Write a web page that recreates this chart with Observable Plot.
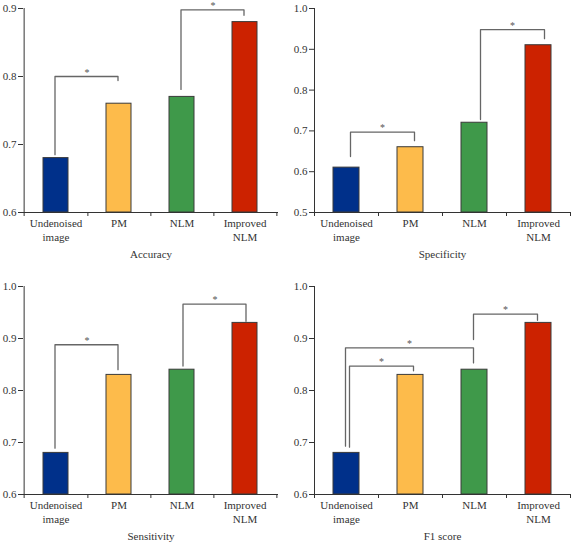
<!DOCTYPE html>
<html><head><meta charset="utf-8">
<script src="https://cdn.jsdelivr.net/npm/d3@7"></script>
<script src="https://cdn.jsdelivr.net/npm/@observablehq/plot@0.6"></script>
<style>
body{margin:0;background:#fff;}
#chart{position:relative;width:572px;height:543px;overflow:hidden;}
#chart svg{position:absolute;display:block;}
</style></head><body><div id="chart"></div>
<script>
// ---- data ----
const categories = ["Undenoised image", "PM", "NLM", "Improved NLM"];
const tickLabels = ["Undenoised\nimage", "PM", "NLM", "Improved\nNLM"];
const barColors = ["#00308a", "#fdbb4b", "#3f994a", "#cc2200"];
const panelTitles = ["Accuracy", "Specificity", "Sensitivity", "F1 score"];

const accuracy = [0.68, 0.76, 0.77, 0.88];
const specificity = [0.61, 0.66, 0.72, 0.91];
const sensitivity = [0.68, 0.83, 0.84, 0.93];
const f1Score = [0.68, 0.83, 0.84, 0.93];

const accuracyTicks = [0.6, 0.7, 0.8, 0.9];
const specificityTicks = [0.5, 0.6, 0.7, 0.8, 0.9, 1.0];
const sensitivityTicks = [0.6, 0.7, 0.8, 0.9, 1.0];
const f1ScoreTicks = [0.6, 0.7, 0.8, 0.9, 1.0];

// significance brackets: [from, to, left leg bottom, bracket top, right leg bottom]
const accuracyBrackets = [
  ["Undenoised image", "PM", 0.685, 0.800, 0.794],
  ["NLM", "Improved NLM", 0.781, 0.898, 0.890]
];
const specificityBrackets = [
  ["Undenoised image", "PM", 0.637, 0.697, 0.676],
  ["NLM", "Improved NLM", 0.728, 0.948, 0.926]
];
const sensitivityBrackets = [
  ["Undenoised image", "PM", 0.689, 0.888, 0.840],
  ["NLM", "Improved NLM", 0.847, 0.966, 0.933]
];
const f1ScoreBrackets = [
  ["Undenoised image", "PM", 0.691, 0.847, 0.838],
  ["Undenoised image", "NLM", 0.693, 0.882, 0.853],
  ["NLM", "Improved NLM", 0.898, 0.947, 0.935]
];

// ---- layout / style ----
const panels = [
  {values: accuracy, ticks: accuracyTicks, brackets: accuracyBrackets, title: panelTitles[0],
   left: 0, top: 0, width: 286, height: 270, ml: 23, mr: 8, mt: 8, mb: 58, nudge: [-1, -1]},
  {values: specificity, ticks: specificityTicks, brackets: specificityBrackets, title: panelTitles[1],
   left: 286, top: 0, width: 286, height: 270, ml: 28, mr: 2, mt: 8, mb: 58, nudge: [4, 6]},
  {values: sensitivity, ticks: sensitivityTicks, brackets: sensitivityBrackets, title: panelTitles[2],
   left: 0, top: 270, width: 286, height: 273, ml: 23, mr: 8, mt: 16, mb: 49, nudge: [-1, 1]},
  {values: f1Score, ticks: f1ScoreTicks, brackets: f1ScoreBrackets, title: panelTitles[3],
   left: 286, top: 270, width: 286, height: 273, ml: 28, mr: 2, mt: 16, mb: 49, nudge: [3, -1, -1]}
];

const ink = "#333";
const font = "'Liberation Serif', 'Times New Roman', serif";
const chart = document.getElementById("chart");

for (const p of panels) {
  const ymin = p.ticks[0], ymax = p.ticks[p.ticks.length - 1];
  const rows = categories.map((c, i) => ({cat: c, value: p.values[i]}));
  const step = (p.width - p.ml - p.mr) / categories.length;
  const marks = [
    Plot.barY(rows, {x: "cat", y1: ymin, y2: "value", fill: "cat", stroke: "#3a3a3a", strokeWidth: 1}),
    Plot.ruleY([ymin], {stroke: ink, strokeWidth: 1}),
    Plot.ruleX([categories[0]], {x: d => d, dx: -step / 2, stroke: ink, strokeWidth: 1}),
    Plot.axisX({tickSize: 0, tickPadding: 5, fontSize: 11, lineHeight: 1.25,
      tickFormat: d => tickLabels[categories.indexOf(d)], label: null}),
    Plot.axisX(categories, {tickSize: 4, tickFormat: () => "", dx: step / 2, label: null}),
    Plot.axisX([categories[0]], {tickSize: 4, tickFormat: () => "", dx: -step / 2, label: null}),
    Plot.text([p.title], {frameAnchor: "bottom", dy: 45, fontSize: 11, fill: ink})
  ];
  p.brackets.forEach((b, k) => {
    const [from, to, yl, top, yr] = b;
    const pts = [{x: from, y: yl}, {x: from, y: top}, {x: to, y: top}, {x: to, y: yr}];
    const span = categories.indexOf(to) - categories.indexOf(from);
    marks.push(Plot.line(pts, {x: "x", y: "y", stroke: "#666", strokeWidth: 1.3, dx: p.nudge[k]}));
    marks.push(Plot.text([b], {x: d => d[0], y: d => d[3], text: () => "*", fontSize: 10, fill: "#555",
      dx: p.nudge[k] + span * step / 2, lineAnchor: "bottom", dy: -1}));
  });
  const svg = Plot.plot({
    width: p.width, height: p.height,
    marginLeft: p.ml, marginRight: p.mr, marginTop: p.mt, marginBottom: p.mb,
    style: {fontFamily: font, fontSize: "11px", color: ink, background: "transparent", overflow: "visible"},
    x: {domain: categories, paddingInner: 0.6, paddingOuter: 0.3},
    y: {domain: [ymin, ymax], ticks: p.ticks, tickFormat: ".1f", tickSize: 5, tickPadding: 2, label: null},
    color: {domain: categories, range: barColors},
    marks
  });
  svg.style.left = p.left + "px";
  svg.style.top = p.top + "px";
  chart.appendChild(svg);
}
</script></body></html>
